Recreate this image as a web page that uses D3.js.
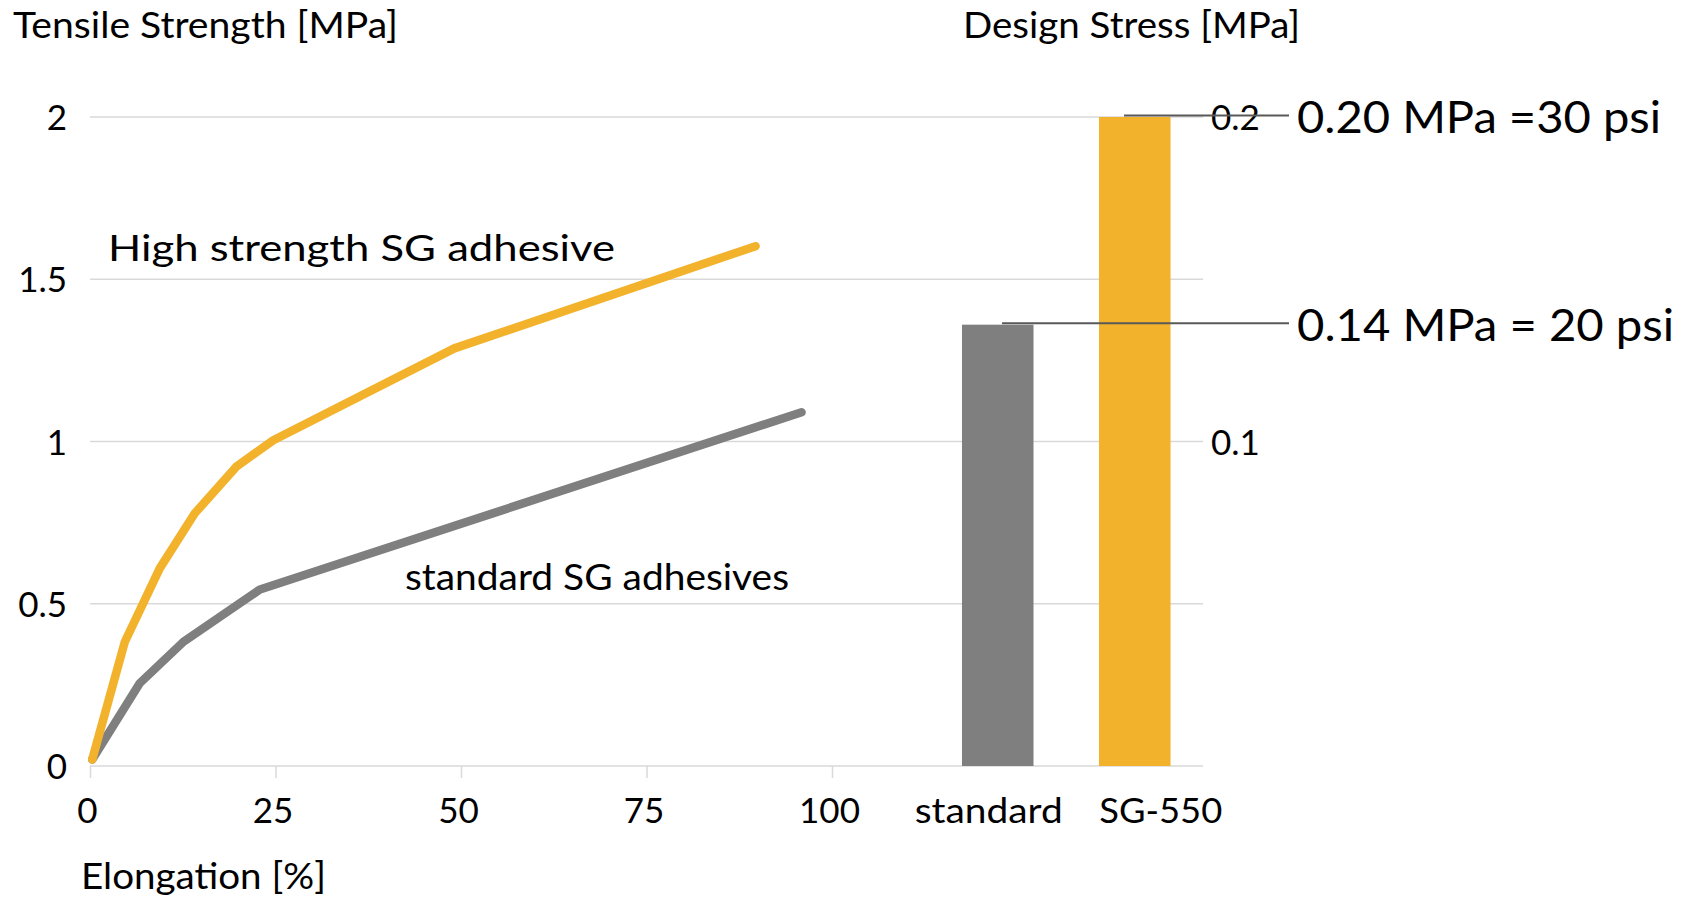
<!DOCTYPE html>
<html>
<head>
<meta charset="utf-8">
<script src="https://cdn.jsdelivr.net/npm/d3@7"></script>
<style>
  html, body { margin: 0; padding: 0; background: #ffffff; }
  svg { display: block; }
  text { font-family: Lato, "Open Sans", sans-serif; fill: #000; }
</style>
</head>
<body>
<svg id="chart" width="1693" height="899"></svg>
<script>
// ---------- data ----------
const xTickValues = [0, 25, 50, 75, 100];
const yTickValues = [0, 0.5, 1, 1.5, 2];
const designTickValues = [0.1, 0.2];

// Elongation [%] vs tensile strength [MPa]
const highStrengthElong = [0.3, 4.7, 9.4, 14.1, 19.7, 24.7, 49.1, 89.7];
const highStrengthMPa   = [0.02, 0.383, 0.609, 0.778, 0.922, 1.004, 1.287, 1.602];
const standardElong     = [0.3, 6.7, 12.6, 22.9, 95.9];
const standardMPa       = [0.02, 0.255, 0.383, 0.544, 1.09];

// Design stress bars
const barCategories = ["standard", "SG-550"];
const barValues     = [0.136, 0.2];
const barColors     = ["#7f7f7f", "#f2b22b"];
const annotationTexts = ["0.14 MPa = 20 psi", "0.20 MPa =30 psi"];

const seriesNames = ["High strength SG adhesive", "standard SG adhesives"];
const seriesColors = ["#f2b22b", "#7f7f7f"];

// ---------- layout ----------
const W = 1693, H = 899;
const plotLeft = 90, plotRight = 1203, lineRight = 832;
const plotTop = 117, plotBottom = 766;

const svg = d3.select("#chart");

const x = d3.scaleLinear().domain([0, 100]).range([plotLeft, lineRight]);
const y = d3.scaleLinear().domain([0, 2]).range([plotBottom, plotTop]);
const y2 = d3.scaleLinear().domain([0, 0.2]).range([plotBottom, plotTop]);
const xb = d3.scaleBand().domain(barCategories).range([929.5, plotRight])
  .paddingInner(0.478).paddingOuter(0.237);

// gridlines
svg.append("g").selectAll("line").data(yTickValues).join("line")
  .attr("x1", plotLeft).attr("x2", plotRight)
  .attr("y1", d => y(d)).attr("y2", d => y(d))
  .attr("stroke", "#d9d9d9").attr("stroke-width", 1.5);

// x axis ticks (below baseline)
const xAxis = d3.axisBottom(x).tickValues(xTickValues).tickSize(12).tickPadding(12).tickFormat(d3.format("d"));
const gx = svg.append("g").attr("transform", `translate(0,${plotBottom})`).call(xAxis);
gx.select(".domain").remove();
gx.selectAll(".tick line").attr("stroke", "#d9d9d9").attr("stroke-width", 1.5);
gx.selectAll(".tick text").attr("font-size", 35).attr("font-family", "Lato").attr("fill", "#000")
  .attr("dy", null).attr("y", 57).attr("dx", -3);

// left y axis labels
const yAxis = d3.axisLeft(y).tickValues(yTickValues).tickSize(0).tickPadding(0).tickFormat(d => String(d));
const gy = svg.append("g").attr("transform", `translate(67,0)`).call(yAxis);
gy.select(".domain").remove();
gy.selectAll(".tick text").attr("font-size", 35).attr("font-family", "Lato").attr("fill", "#000")
  .attr("dy", "0.36em");

// right design stress axis labels
const y2Axis = d3.axisRight(y2).tickValues(designTickValues).tickSize(0).tickPadding(0).tickFormat(d3.format(".1f"));
const gy2 = svg.append("g").attr("transform", `translate(1211,0)`).call(y2Axis);
gy2.select(".domain").remove();
gy2.selectAll(".tick text").attr("font-size", 35).attr("font-family", "Lato").attr("fill", "#000")
  .attr("dy", "0.36em");

// bars
svg.append("g").selectAll("rect").data(barCategories).join("rect")
  .attr("x", d => xb(d)).attr("width", xb.bandwidth())
  .attr("y", (d, i) => y2(barValues[i]))
  .attr("height", (d, i) => plotBottom - y2(barValues[i]))
  .attr("fill", (d, i) => barColors[i]);

// bar category labels
const labelX = [988.5 - 997.5, 1161 - 1135];
const labelLen = [148, 123];
svg.append("g").selectAll("text").data(barCategories).join("text")
  .attr("x", (d, i) => xb(d) + xb.bandwidth() / 2 + labelX[i])
  .attr("y", 823)
  .attr("text-anchor", "middle")
  .attr("font-size", 35)
  .attr("textLength", (d, i) => labelLen[i])
  .attr("lengthAdjust", "spacingAndGlyphs")
  .text(d => d);

// lines
const line = d3.line().x(d => x(d[0])).y(d => y(d[1]));
const series = [
  d3.zip(highStrengthElong, highStrengthMPa),
  d3.zip(standardElong, standardMPa)
];
svg.append("g").selectAll("path").data([series[1], series[0]]).join("path")
  .attr("d", line)
  .attr("fill", "none")
  .attr("stroke", (d, i) => i === 0 ? seriesColors[1] : seriesColors[0])
  .attr("stroke-width", 8.5)
  .attr("stroke-linecap", "round")
  .attr("stroke-linejoin", "round");

// annotation leader lines
const leaderStart = [0.56, 0.35];
const leaderEnd = 1289;
svg.append("g").selectAll("line").data(barCategories).join("line")
  .attr("x1", (d, i) => xb(d) + xb.bandwidth() * leaderStart[i])
  .attr("x2", leaderEnd)
  .attr("y1", (d, i) => y2(barValues[i]) - 1.5)
  .attr("y2", (d, i) => y2(barValues[i]) - 1.5)
  .attr("stroke", "#595959").attr("stroke-width", 2);

// annotation texts
const annoLen = [377, 364];
svg.append("g").selectAll("text").data(annotationTexts).join("text")
  .attr("x", 1297)
  .attr("y", (d, i) => y2(barValues[i]) + 16)
  .attr("font-size", 45)
  .attr("textLength", (d, i) => annoLen[i])
  .attr("lengthAdjust", "spacingAndGlyphs")
  .text(d => d);

// titles
function label(txt, xx, yy, len) {
  svg.append("text").attr("x", xx).attr("y", yy).attr("font-size", 36)
    .attr("textLength", len).attr("lengthAdjust", "spacingAndGlyphs").text(txt);
}
label("Tensile Strength [MPa]", 13, 38, 385);
label("Design Stress [MPa]", 963, 38, 337);
label("Elongation [%]", 81, 889, 245);
label(seriesNames[0], 108, 261, 507);
label(seriesNames[1], 405, 590, 384);
</script>
</body>
</html>
